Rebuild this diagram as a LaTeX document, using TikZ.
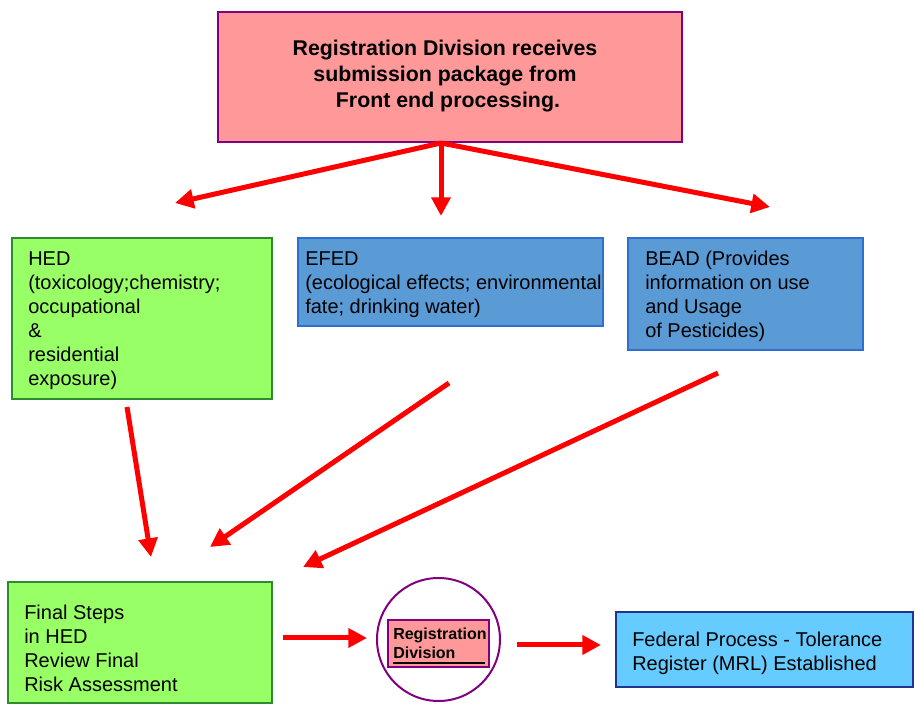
\documentclass[tikz,border=0pt]{standalone}
\usepackage{fontspec}
\setmainfont{Liberation Sans}
\usetikzlibrary{arrows.meta}
\definecolor{boxred}{HTML}{FF9999}
\definecolor{boxgreen}{HTML}{99FF66}
\definecolor{boxblue}{HTML}{5B9BD5}
\definecolor{boxcyan}{HTML}{66CCFF}
\definecolor{edgepurple}{HTML}{800080}
\definecolor{edgegreen}{HTML}{2E8B2E}
\definecolor{edgeblue}{HTML}{2F6FD0}
\definecolor{edgenavy}{HTML}{1F3590}
\definecolor{arrowred}{HTML}{FF0000}
\tikzset{
  box/.style={draw, rectangle, anchor=north west, inner sep=0pt, outer sep=0pt, line width=1.1pt},
  bodytext/.style={anchor=west, align=left, inner sep=0pt, font=\fontsize{15}{18}\selectfont},
  redarrow/.style={draw=arrowred, line width=3.75pt, -{Triangle[width=14pt,length=14pt]}}
}
\begin{document}
\begin{tikzpicture}[x=0.75pt,y=-0.75pt]
\useasboundingbox (0,0) rectangle (915,705);
% boxes
\node[box, fill=boxred, draw=edgepurple, line width=1.5pt, minimum width=348pt, minimum height=97.5pt] (top) at (218,12) {};
\node[box, fill=boxgreen, draw=edgegreen, minimum width=195pt, minimum height=120.75pt] (hed) at (12,238) {};
\node[box, fill=boxblue, draw=edgeblue, minimum width=228.75pt, minimum height=66pt] (efed) at (298,238) {};
\node[box, fill=boxblue, draw=edgeblue, minimum width=176.25pt, minimum height=84pt] (bead) at (628,238) {};
\node[box, fill=boxgreen, draw=edgegreen, minimum width=198pt, minimum height=90.75pt] (final) at (8,582) {};
\node[box, fill=boxcyan, draw=edgenavy, minimum width=222.75pt, minimum height=56.25pt] (fed) at (616,612) {};
\node[draw=edgepurple, circle, line width=1.5pt, minimum size=92.25pt, inner sep=0pt] (ring) at (438.5,639.5) {};
\node[box, fill=boxred, draw=edgepurple, line width=1.2pt, minimum width=75.75pt, minimum height=35.25pt] (rdbox) at (388,620) {};
% texts
\node[align=center, inner sep=0pt, font=\fontsize{16}{19.5}\selectfont\bfseries] (toptext) at (445,76)
  {Registration Division receives\\submission package from\\\ Front end processing.};
\node[bodytext] (hedtext) at (28,320.5) {HED\\(toxicology;chemistry;\\occupational\\\&\\residential\\exposure)};
\node[bodytext] (efedtext) at (305,285) {EFED\\(ecological effects; environmental\\fate; drinking water)};
\node[bodytext] (beadtext) at (645,296) {BEAD (Provides\\information on use\\and Usage\\of Pesticides)};
\node[bodytext] (finaltext) at (24,648.5) {Final Steps\\in HED\\Review Final\\Risk Assessment};
\node[bodytext] (fedtext) at (632,653) {Federal Process - Tolerance\\Register (MRL) Established};
\node[anchor=west, align=left, inner sep=0pt, font=\fontsize{12}{14}\selectfont\bfseries] (rdtext) at (393,643) {Registration\\Division};
\draw[line width=1.9pt] (393,663) -- (485,663);
% arrow ends
\coordinate (s0) at (441,143);
\coordinate (t1) at (175,203);
\coordinate (t2) at (441,216);
\coordinate (t3) at (770,207);
\coordinate (h0) at (127,407);
\coordinate (h1) at (151,557);
\coordinate (e0) at (449,383);
\coordinate (e1) at (210,547);
\coordinate (b0) at (718,373);
\coordinate (b1) at (303,567);
\coordinate (f0) at (283,638);
\coordinate (f1) at (367,638);
\coordinate (r0) at (517,645);
\coordinate (r1) at (601,645);
% arrows
\draw[redarrow] (s0) -- (t1);
\draw[redarrow] (s0) -- (t2);
\draw[redarrow] (s0) -- (t3);
\draw[redarrow] (h0) -- (h1);
\draw[redarrow] (e0) -- (e1);
\draw[redarrow] (b0) -- (b1);
\draw[redarrow] (f0) -- (f1);
\draw[redarrow] (r0) -- (r1);
\end{tikzpicture}
\end{document}
